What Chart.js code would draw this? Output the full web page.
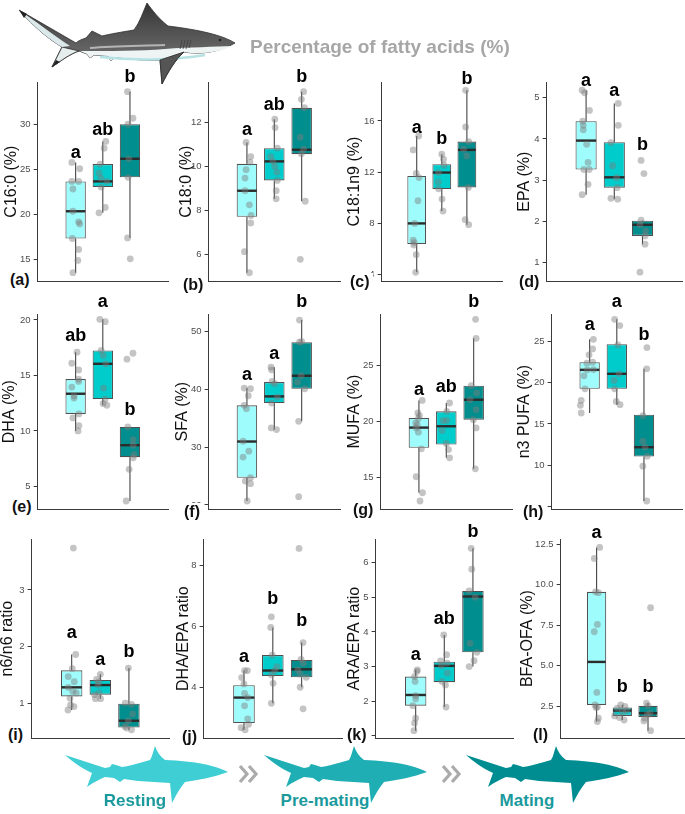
<!DOCTYPE html>
<html><head><meta charset="utf-8">
<script src="https://cdn.jsdelivr.net/npm/chart.js@4.4.1/dist/chart.umd.min.js"></script>
<style>
html,body{margin:0;padding:0;background:#fff;}
body{width:685px;height:814px;position:relative;overflow:hidden;font-family:"Liberation Sans",Arial,sans-serif;}
canvas{position:absolute;z-index:2;}
#deco{position:absolute;left:0;top:0;z-index:1;}
.plab{position:absolute;z-index:3;font-weight:bold;font-size:16px;line-height:17px;background:#fff;padding:0 3px 0 1px;color:#111;}
.title{position:absolute;z-index:3;left:250px;top:37px;font-weight:bold;font-size:19px;line-height:19px;color:#a6a6a6;white-space:nowrap;}
.stage{position:absolute;z-index:3;top:792px;font-weight:bold;font-size:17px;line-height:17px;color:#1b9a9e;white-space:nowrap;transform:translateX(-50%);}
</style></head><body>
<svg id="deco" width="685" height="814" viewBox="0 0 685 814">
  <defs>
    <linearGradient id="bodyG" x1="0" y1="0" x2="0" y2="1">
      <stop offset="0" stop-color="#353535"/>
      <stop offset="0.6" stop-color="#666"/>
      <stop offset="1" stop-color="#999"/>
    </linearGradient>
    <path id="shk" d="M164 27 C150 20 130 16 101 15 Q94 10 91 1 C89 7 88 12 86 15 C76 18 66 21 58 22 L52 20 L48 19 L46 22 L41 23 L1 10 C10 18 19 24 28 28 L23 42 C30 37 36 34 41 32 L50 33 L56 37 L60 34 L74 36 L106 38 L108 58 C112 50 116 43 121 37 C135 35 150 32 164 27 Z"/>
  </defs>
  <!-- top illustrated shark -->
  <path d="M235 43 C222 35 200 30 168 26 C160 20 152 10 147 3 C143 12 140 22 134 30 C122 32 110 34 102 36 L92 31 L86 38 C80 40 78 41 76 43 L19 10 C35 28 50 40 62 47 L52 67 C62 60 70 54 79 51 L87 54 L90 58 L94 55 L108 56 L111 61 L115 57 C130 59 145 61 160 60 L162 84 C168 72 175 60 184 52 C200 55 220 52 235 43 Z" fill="url(#bodyG)" stroke="#2e2e2e" stroke-width="0.8"/>
  <path d="M232 46 C215 47 190 47 165 49 C140 51 110 51 80 51 L87 54 L90 58 L94 55 L108 56 L111 61 L115 57 C130 59 145 61 160 60 L184 52 C200 55 220 52 232 46 Z" fill="#eef4f4"/>
  <path d="M205 55 C175 60 135 61 100 57" stroke="#b6e2e4" stroke-width="2.5" fill="none"/>
  <path d="M165 45 C140 46 115 46 90 48" stroke="#b5b5b5" stroke-width="2" fill="none"/>
  <path d="M62 47 L52 67 C62 60 70 54 79 51 Z" fill="#e6eded" stroke="#2e2e2e" stroke-width="0.8"/>
  <path d="M52 67 L56 60 L60 62 Z" fill="#222"/>
  <path d="M19 10 C35 28 50 40 62 47 L70 46 C52 34 34 20 19 10 Z" fill="#dce9ea"/>
  <path d="M19 10 L24 18 L27 14 Z" fill="#222"/>
  <path d="M160 60 L162 84 C168 72 175 60 184 52 Z" fill="#555" stroke="#2e2e2e" stroke-width="0.8"/>
  <path d="M182 40 l-2 9 M185 40 l-2 9 M188 40 l-2 9 M191 40 l-2 8" stroke="#3d3d3d" stroke-width="0.8"/>
  <circle cx="220" cy="40" r="1.3" fill="#222"/>
  <!-- bottom silhouettes -->
  <use href="#shk" x="64" y="745" fill="#3fced3"/>
  <use href="#shk" x="263" y="745" fill="#1eaeb3"/>
  <use href="#shk" x="465" y="745" fill="#008d92"/>
  <g stroke="#ababab" stroke-width="3.2" fill="none" stroke-linejoin="miter">
    <polyline points="240,766 247,774 240,782"/>
    <polyline points="249,766 256,774 249,782"/>
    <polyline points="443,766 450,774 443,782"/>
    <polyline points="452,766 459,774 452,782"/>
  </g>
</svg>
<div class="title">Percentage of fatty acids (%)</div>
<div class="stage" style="left:135px">Resting</div>
<div class="stage" style="left:325px">Pre-mating</div>
<div class="stage" style="left:527px">Mating</div>
<script>
// ---------------- DATA ----------------
const groups = ['Resting', 'Pre-mating', 'Mating'];

// (a) C16:0 (%)
const a_values = [[25.81,25.11,23.70,23.70,22.85,20.37,19.19,18.96,17.33,16.11,14.89,13.52],[28.15,27.40,25.63,24.63,24.07,23.70,23.07,20.80,20.19],[33.70,30.74,30.07,26.22,24.15,17.40,15.07]];
const a_jitter = [[-0.14,0.15,-0.14,0.11,-0.10,-0.10,0.11,0.15,-0.12,0.11,0.08,-0.10],[0.11,0.05,-0.10,-0.14,-0.07,0.15,-0.06,0.09,-0.14],[-0.09,0.11,-0.07,-0.04,-0.07,-0.09,0.01]];
const a_boxes = [[17.33,20.37,23.70,13.52,25.81],[23.07,23.70,25.63,20.19,28.15],[24.15,26.22,30.07,17.40,33.70]];
const a_letters = ['a','ab','b'];
const a_letterY = [26.85,29.44,35.3];
const a_ticks = [15,20,25,30];
const a_range = [12.56,34.78];

// (b) C18:0 (%)
const b_values = [[11.09,10.45,10.20,9.85,9.47,8.89,8.25,7.76,7.42,6.11,5.15],[12.15,11.77,10.83,10.45,10.23,10.00,9.74,9.36,8.89,8.52],[13.41,13.06,12.68,11.33,10.79,10.58,8.41,5.76]];
const b_jitter = [[-0.03,0.14,0.11,-0.03,-0.07,-0.07,0.09,0.15,0.14,-0.09,0.09],[0.02,0.03,0.11,-0.13,-0.05,0.02,0.09,0.11,0.07,0.07],[0.07,-0.01,0.10,-0.05,0.07,-0.01,0.13,-0.05]];
const b_boxes = [[7.70,8.89,10.12,5.15,11.09],[9.36,10.23,10.83,8.52,12.15],[10.56,10.76,12.67,8.41,13.41]];
const b_letters = ['a','ab','b'];
const b_letterY = [11.67,12.8,14.09];
const b_ticks = [6,8,10,12];
const b_range = [4.76,13.85];

// (c) C18:1n9 (%)
const c_values = [[14.83,13.74,11.90,11.58,9.77,8.00,6.70,6.50,6.31,5.56,4.18],[13.40,13.00,12.55,11.97,11.25,10.70,9.90,8.96],[18.39,15.53,14.39,13.79,13.27,10.81,8.29,7.90]];
const c_jitter = [[0.08,-0.14,-0.02,0.09,0.05,-0.08,-0.14,-0.10,-0.12,-0.02,-0.04],[0.00,0.07,0.09,-0.13,-0.14,-0.13,0.01,0.05],[-0.05,-0.05,0.07,-0.13,-0.01,0.06,-0.07,0.07]];
const c_boxes = [[6.39,8.00,11.71,4.18,14.83],[10.68,11.97,12.62,8.96,13.40],[10.81,13.74,14.39,7.90,18.39]];
const c_letters = ['a','b','b'];
const c_letterY = [15.48,14.57,19.25];
const c_ticks = [4,8,12,16];
const c_range = [3.48,19.04];

// (d) EPA (%)
const d_values = [[5.18,5.12,4.69,4.43,4.33,4.22,3.87,3.43,3.26,3.26,2.90,2.65],[4.86,4.33,3.91,3.35,3.06,2.82,2.56,2.54],[3.48,3.16,2.03,1.92,1.77,1.65,1.45,0.77]];
const d_jitter = [[-0.14,-0.05,0.12,-0.12,-0.10,-0.10,0.02,0.07,-0.08,0.11,0.07,-0.14],[0.14,0.14,-0.12,-0.06,0.08,0.10,-0.12,0.12],[-0.05,0.05,-0.05,-0.09,0.11,0.09,0.09,-0.09]];
const d_boxes = [[3.26,3.96,4.43,2.65,5.18],[2.82,3.07,3.92,2.54,4.86],[1.65,1.92,2.02,1.45,2.03]];
const d_letters = ['a','a','b'];
const d_letterY = [5.40,5.15,3.85];
const d_ticks = [1,2,3,4,5];
const d_range = [0.55,5.38];

// (e) DHA (%)
const e_values = [[17.10,16.10,15.50,14.67,14.46,13.95,13.17,12.96,11.53,11.17,10.48,10.00],[20.06,19.85,17.25,16.80,16.05,13.86,12.87,12.46,12.31],[17.00,16.47,10.36,9.22,8.71,7.87,7.57,6.53,3.68]];
const e_jitter = [[0.05,-0.14,0.11,0.11,0.11,-0.14,-0.06,-0.06,0.12,-0.10,0.12,0.09],[-0.11,0.09,-0.06,0.02,0.11,0.03,0.09,0.01,0.15],[0.11,-0.11,-0.08,0.12,0.12,0.15,0.12,-0.03,-0.14]];
const e_boxes = [[11.53,13.35,14.67,10.00,17.10],[12.87,16.05,17.25,12.31,20.06],[7.63,8.71,10.36,3.68,10.36]];
const e_letters = ['ab','a','b'];
const e_letterY = [18.56,21.62,11.92];
const e_ticks = [5,10,15,20];
const e_range = [2.93,20.54];

// (f) SFA (%)
const f_values = [[40.23,40.11,38.90,37.24,36.67,31.03,29.31,28.28,24.71,24.14,23.68,20.69],[43.85,43.39,41.38,40.98,38.68,37.64,33.33,33.05],[52.00,48.27,48.16,42.36,41.26,40.11,34.48,21.44]];
const f_jitter = [[-0.10,0.13,0.05,-0.10,-0.02,-0.14,0.07,-0.14,0.13,-0.06,0.13,0.01],[-0.12,-0.10,-0.08,0.02,0.11,-0.10,-0.11,0.08],[-0.08,0.00,-0.08,-0.02,-0.15,0.11,-0.11,-0.11]];
const f_boxes = [[24.71,30.98,37.24,20.69,40.23],[37.64,38.79,41.26,33.05,43.85],[40.11,42.36,48.16,34.48,52.00]];
const f_letters = ['a','a','b'];
const f_letterY = [42.53,46.15,55.1];
const f_ticks = [20,30,40,50];
const f_range = [19.25,53.05];

// (g) MUFA (%)
const g_values = [[21.91,20.79,20.55,20.30,19.90,19.75,19.45,19.07,17.58,15.09,13.66,12.92],[21.68,20.93,20.13,20.10,19.21,18.06,17.52,16.78],[29.15,27.46,23.22,22.57,21.97,21.08,20.19,19.45,15.80]];
const g_jitter = [[0.12,-0.04,0.02,-0.02,-0.12,-0.06,-0.10,-0.02,0.09,-0.10,0.13,0.04],[0.12,0.02,0.02,-0.12,-0.15,0.00,0.08,0.12],[0.07,0.09,-0.09,0.11,-0.13,0.09,-0.01,0.09,0.06]];
const g_boxes = [[17.67,19.48,20.34,13.66,21.91],[17.97,19.60,20.93,16.78,21.68],[20.19,21.97,23.22,15.80,27.46]];
const g_letters = ['a','ab','b'];
const g_letterY = [22.86,23.07,30.7];
const g_ticks = [15,20,25];
const g_range = [12.18,29.63];

// (h) n3 PUFA (%)
const h_values = [[25.28,24.11,23.39,22.50,22.38,21.60,21.57,20.85,19.27,17.86,17.26,16.33],[27.70,26.94,24.60,21.09,20.28,19.27,17.74,17.34],[24.27,21.69,16.00,12.90,12.18,11.09,9.88,5.65]];
const h_jitter = [[0.14,0.11,-0.02,0.11,-0.10,0.14,-0.09,-0.21,-0.17,-0.31,-0.34,-0.31],[-0.08,0.11,0.04,0.08,-0.10,-0.08,-0.02,0.12],[0.11,0.10,-0.04,-0.04,0.04,0.12,-0.04,0.10]];
const h_boxes = [[19.27,21.57,22.50,16.33,25.28],[19.27,21.09,24.68,17.34,27.70],[11.05,12.18,16.13,5.65,21.69]];
const h_letters = ['a','a','b'];
const h_letterY = [27.0,29.8,25.8];
const h_ticks = [5,10,15,20,25];
const h_range = [4.64,28.35];

// (i) n6/n6 ratio
const i_values = [[3.74,1.86,1.61,1.47,1.38,1.28,1.21,1.18,1.09,0.97,0.94,0.88],[1.51,1.42,1.38,1.32,1.18,1.15,1.08,1.08],[1.62,1.00,0.98,0.81,0.69,0.59,0.56,0.53]];
const i_jitter = [[0.06,0.14,0.02,-0.12,0.09,-0.12,0.04,0.16,-0.06,-0.04,0.08,-0.13],[0.00,-0.13,-0.05,-0.08,-0.04,-0.20,-0.17,0.01],[-0.02,-0.13,0.09,0.13,-0.02,-0.14,-0.08,0.09]];
const i_boxes = [[1.12,1.28,1.58,0.88,1.86],[1.15,1.32,1.41,1.08,1.51],[0.57,0.69,0.99,0.53,1.62]];
const i_letters = ['a','a','b'];
const i_letterY = [2.24,1.76,1.91];
const i_ticks = [1,2,3];
const i_range = [0.38,3.9];

// (j) DHA/EPA ratio
const j_values = [[4.55,4.55,4.32,4.11,3.80,3.66,3.39,2.96,2.78,2.67,2.60],[6.32,5.97,5.06,4.68,4.55,4.41,4.13,3.47],[8.57,5.47,4.92,4.79,4.57,4.43,4.33,4.00,3.29]];
const j_jitter = [[0.02,0.12,-0.08,0.00,0.02,0.13,0.02,0.13,0.16,-0.10,0.04],[-0.05,-0.07,-0.02,0.14,0.07,-0.05,0.01,-0.05],[-0.09,0.05,-0.02,0.06,-0.13,-0.05,0.16,-0.05,0.05]];
const j_boxes = [[2.82,3.66,4.07,2.60,4.55],[4.37,4.55,5.06,3.47,5.97],[4.33,4.59,4.90,4.00,5.47]];
const j_letters = ['a','b','b'];
const j_letterY = [5.0,6.9,6.19];
const j_ticks = [4,6,8];
const j_range = [2.32,8.88];

// (k) ARA/EPA ratio
const k_values = [[2.90,2.86,2.71,2.57,2.16,2.07,1.87,1.51,1.37,1.15],[3.91,3.34,3.16,3.10,3.02,2.81,2.57,2.47,1.83],[6.41,5.81,5.18,5.00,3.67,3.41,3.17,3.00]];
const k_jitter = [[0.06,0.04,-0.04,-0.02,0.00,0.00,-0.10,0.00,-0.04,-0.06],[-0.02,0.08,-0.13,0.10,-0.10,0.10,-0.08,0.04,0.06],[-0.06,-0.04,-0.13,0.08,-0.10,0.14,0.04,-0.13]];
const k_boxes = [[1.87,2.18,2.71,1.15,2.90],[2.55,3.02,3.14,1.83,3.91],[3.41,5.02,5.18,3.00,6.41]];
const k_letters = ['a','ab','b'];
const k_letterY = [3.34,4.38,6.89];
const k_ticks = [1,2,3,4,5,6];
const k_range = [0.93,6.68];

// (l) BFA-OFA (%)
const l_values = [[12.29,11.61,9.55,9.50,7.54,7.09,3.35,2.58,2.45,2.42,1.76,1.55],[2.58,2.48,2.38,2.23,2.15,1.90,1.80,1.65],[8.57,2.69,2.52,2.07,1.97,1.76,1.59,0.99]];
const l_jitter = [[0.12,-0.09,-0.04,0.07,0.03,-0.09,0.01,-0.06,0.03,-0.02,0.07,0.03],[-0.06,0.10,-0.19,0.17,0.00,-0.30,-0.11,0.07],[0.10,-0.06,0.00,0.08,-0.03,-0.13,-0.16,0.10]];
const l_boxes = [[2.58,5.23,9.55,1.55,12.29],[1.90,2.23,2.42,1.65,2.58],[1.82,2.07,2.52,0.99,2.69]];
const l_letters = ['a','b','b'];
const l_letterY = [13.16,3.66,3.66];
const l_ticks = [2.5,5,7.5,10,12.5];
const l_tickLabels = ['2.5','5.0','7.5','10.0','12.5'];
const l_range = [0.52,12.81];

// ---------------- STYLE / LAYOUT ----------------
const groupColors = ['#9ffcfc', '#00cccc', '#008e8e'];
const panels = [
  {id:'a', title:'C16:0 (%)',     v:a_values, j:a_jitter, b:a_boxes, L:a_letters, LY:a_letterY, t:a_ticks, r:a_range, ax:38,  at:82,  ab:282, ar:168, tc:12,  lx:10,  ly:280},
  {id:'b', title:'C18:0 (%)',     v:b_values, j:b_jitter, b:b_boxes, L:b_letters, LY:b_letterY, t:b_ticks, r:b_range, ax:209, at:82,  ab:282, ar:340, tc:187, lx:183, ly:285},
  {id:'c', title:'C18:1n9 (%)',   v:c_values, j:c_jitter, b:c_boxes, L:c_letters, LY:c_letterY, t:c_ticks, r:c_range, ax:382, at:82,  ab:282, ar:502, tc:355, lx:350, ly:282},
  {id:'d', title:'EPA (%)',       v:d_values, j:d_jitter, b:d_boxes, L:d_letters, LY:d_letterY, t:d_ticks, r:d_range, ax:547, at:82,  ab:282, ar:682, tc:525, lx:519, ly:282},
  {id:'e', title:'DHA (%)',       v:e_values, j:e_jitter, b:e_boxes, L:e_letters, LY:e_letterY, t:e_ticks, r:e_range, ax:38,  at:314, ab:510, ar:168, tc:10,  lx:12,  ly:507},
  {id:'f', title:'SFA (%)',       v:f_values, j:f_jitter, b:f_boxes, L:f_letters, LY:f_letterY, t:f_ticks, r:f_range, ax:209, at:314, ab:510, ar:340, tc:183, lx:184, ly:512},
  {id:'g', title:'MUFA (%)',      v:g_values, j:g_jitter, b:g_boxes, L:g_letters, LY:g_letterY, t:g_ticks, r:g_range, ax:381, at:314, ab:510, ar:512, tc:355, lx:353, ly:510},
  {id:'h', title:'n3 PUFA (%)',   v:h_values, j:h_jitter, b:h_boxes, L:h_letters, LY:h_letterY, t:h_ticks, r:h_range, ax:552, at:314, ab:510, ar:682, tc:525, lx:523, ly:512},
  {id:'i', title:'n6/n6 ratio',   v:i_values, j:i_jitter, b:i_boxes, L:i_letters, LY:i_letterY, t:i_ticks, r:i_range, ax:32,  at:539, ab:739, ar:169, tc:8,   lx:8,   ly:735},
  {id:'j', title:'DHA/EPA ratio', v:j_values, j:j_jitter, b:j_boxes, L:j_letters, LY:j_letterY, t:j_ticks, r:j_range, ax:204, at:539, ab:739, ar:342, tc:184, lx:182, ly:737},
  {id:'k', title:'ARA/EPA ratio', v:k_values, j:k_jitter, b:k_boxes, L:k_letters, LY:k_letterY, t:k_ticks, r:k_range, ax:376, at:539, ab:739, ar:513, tc:355, lx:347, ly:735},
  {id:'l', title:'BFA-OFA (%)',   v:l_values, j:l_jitter, b:l_boxes, L:l_letters, LY:l_letterY, t:l_ticks, r:l_range, tl:l_tickLabels, ax:561, at:539, ab:739, ar:684, tc:528, lx:533, ly:735}
];

Chart.defaults.font.family = '"Liberation Sans", Arial, sans-serif';

const boxPlugin = {
  id: 'boxExtras',
  afterDatasetDraw(chart, args) {
    if (args.meta.type !== 'bar') return;
    const p = chart.options.plugins.boxExtras.panel;
    const ctx = chart.ctx, ys = chart.scales.y;
    ctx.save();
    p.b.forEach((st, i) => {
      const el = args.meta.data[i];
      const xc = el.x, half = el.width / 2;
      ctx.strokeStyle = '#454545'; ctx.lineWidth = 1.1;
      ctx.beginPath();
      ctx.moveTo(xc, ys.getPixelForValue(st[2])); ctx.lineTo(xc, ys.getPixelForValue(st[4]));
      ctx.moveTo(xc, ys.getPixelForValue(st[0])); ctx.lineTo(xc, ys.getPixelForValue(st[3]));
      ctx.stroke();
      const ym = ys.getPixelForValue(st[1]);
      ctx.strokeStyle = '#2b2b2b'; ctx.lineWidth = 2.4;
      ctx.beginPath(); ctx.moveTo(xc - half + 0.5, ym); ctx.lineTo(xc + half - 0.5, ym); ctx.stroke();
    });
    ctx.restore();
  },
  afterDraw(chart) {
    const p = chart.options.plugins.boxExtras.panel;
    const ctx = chart.ctx, ys = chart.scales.y, xs = chart.scales.x;
    ctx.save();
    ctx.font = 'bold 18px "Liberation Sans", Arial, sans-serif';
    ctx.fillStyle = '#000'; ctx.textAlign = 'center'; ctx.textBaseline = 'middle';
    p.L.forEach((t, i) => ctx.fillText(t, xs.getPixelForValue(i + 1), ys.getPixelForValue(p.LY[i])));
    ctx.restore();
  }
};

panels.forEach(p => {
  const cLeft = p.tc - 11.6;
  const top = p.at - 32;
  const W = Math.round(p.ar - cLeft + 6);
  const H = Math.round(p.ab - top + 8);
  const yw = p.ax - cLeft;
  const cv = document.createElement('canvas');
  cv.width = W; cv.height = H;
  cv.style.left = cLeft + 'px'; cv.style.top = top + 'px';
  cv.style.width = W + 'px'; cv.style.height = H + 'px';
  document.body.appendChild(cv);

  const pts = [];
  p.v.forEach((arr, g) => arr.forEach((val, k) => pts.push({x: g + 1 + p.j[g][k], y: val})));

  new Chart(cv, {
    type: 'bar',
    data: {
      datasets: [
        {type: 'scatter', data: pts, pointRadius: 3.4, pointBackgroundColor: 'rgba(125,125,125,0.45)', pointBorderWidth: 0, clip: false, order: 0},
        {type: 'bar', label: 'box', data: p.b.map((st, i) => ({x: i + 1, y: [st[0], st[2]]})),
         backgroundColor: groupColors, borderColor: '#505050', borderWidth: 1.1, borderSkipped: false,
         barPercentage: 0.75, categoryPercentage: 1, order: 1}
      ]
    },
    options: {
      responsive: false, animation: false, events: [], devicePixelRatio: 1,
      layout: {padding: {top: 32, right: 6, bottom: 8, left: 0}},
      plugins: {legend: {display: false}, tooltip: {enabled: false}, boxExtras: {panel: p}},
      scales: {
        x: {type: 'linear', min: 0.4, max: 3.6,
            afterBuildTicks: s => { s.ticks = [1, 2, 3].map(v => ({value: v})); },
            ticks: {display: false}, grid: {display: false},
            border: {display: true, color: '#3a3a3a', width: 1},
            afterFit: s => { s.height = 0; }},
        y: {type: 'linear', min: p.r[0], max: p.r[1],
            afterBuildTicks: s => { s.ticks = p.t.map(v => ({value: v})); },
            ticks: {color: '#4d4d4d', font: {size: 9.5}, padding: 3, autoSkip: false,
                    callback: (val, idx) => p.tl ? p.tl[idx] : String(p.t[idx])},
            grid: {display: true, drawOnChartArea: false, drawTicks: true, tickLength: 4, color: '#3a3a3a'},
            border: {display: true, color: '#3a3a3a', width: 1},
            title: {display: true, text: p.title, color: '#111', font: {size: 16}, padding: {top: 2, bottom: 0}},
            afterFit: s => { s.width = yw; }}
      }
    },
    plugins: [boxPlugin]
  });

  const lab = document.createElement('div');
  lab.className = 'plab';
  lab.textContent = '(' + p.id + ')';
  lab.style.left = (p.lx - 1) + 'px';
  lab.style.top = (p.ly - 9) + 'px';
  document.body.appendChild(lab);
});
</script>
</body></html>
